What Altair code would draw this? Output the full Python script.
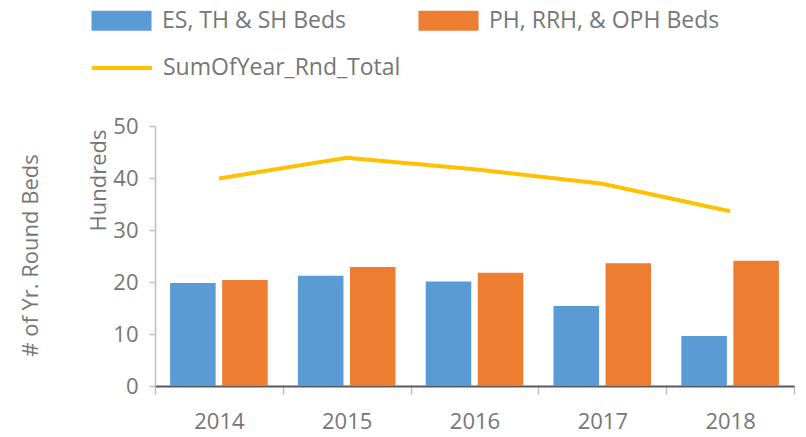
import altair as alt
import pandas as pd

years = ["2014", "2015", "2016", "2017", "2018"]
es_th_sh = [19.8, 21.2, 20.1, 15.4, 9.6]
ph_rrh_oph = [20.4, 22.9, 21.8, 23.6, 24.1]
total = [39.9, 43.9, 41.7, 38.9, 33.6]
series_names = ["ES, TH & SH Beds", "PH, RRH, & OPH Beds"]
line_name = "SumOfYear_Rnd_Total"
y_ticks = [0, 10, 20, 30, 40, 50]
bar_colors = ["#5B9BD5", "#ED7D31"]
line_color = "#FFC000"
outer_title = "# of Yr. Round Beds"

FONT = "Open Sans"
TXT = "#767676"

bars_df = pd.DataFrame({
    "year": years * 2,
    "series": [series_names[0]] * len(years) + [series_names[1]] * len(years),
    "value": es_th_sh + ph_rrh_oph,
})
line_df = pd.DataFrame({"year": years, "value": total, "label": [line_name] * len(years)})
title_df = pd.DataFrame({"t": [outer_title]})

x_enc = alt.X(
    "year:N", sort=years,
    scale=alt.Scale(paddingInner=0, paddingOuter=0),
    axis=alt.Axis(
        title=None, labelAngle=0, tickBand="extent", tickSize=8,
        tickColor="#BFBFBF", tickWidth=1.5, domainColor="#595959", domainWidth=2,
        labelFont=FONT, labelFontSize=22, labelColor=TXT, labelPadding=17,
    ),
)
y_enc = alt.Y(
    "value:Q",
    scale=alt.Scale(domain=[0, 50], nice=False),
    axis=alt.Axis(
        values=y_ticks, title="Hundreds", grid=False, tickSize=6,
        tickColor="#BFBFBF", tickWidth=1.5, domainColor="#BFBFBF", domainWidth=1.5,
        labelFont=FONT, labelFontSize=22, labelColor=TXT, labelPadding=11,
        titleFont=FONT, titleFontSize=22, titleColor=TXT, titleFontWeight="normal",
        titleAngle=270, titleAlign="center", titleBaseline="alphabetic",
        titleX=-50, titleY=54,
    ),
)

# legend symbols: 20px layout box, drawn 60px wide
bars = alt.Chart(bars_df).mark_bar().encode(
    x=x_enc,
    xOffset=alt.XOffset("series:N", sort=series_names,
                        scale=alt.Scale(paddingInner=0.125, paddingOuter=0.29)),
    y=y_enc,
    fill=alt.Fill(
        "series:N", sort=series_names,
        scale=alt.Scale(domain=series_names, range=bar_colors),
        legend=alt.Legend(
            title=None, orient="none", legendX=-45, legendY=-117,
            direction="horizontal", columns=2, columnPadding=72,
            symbolType="M-3,-1H3V1H-3Z", symbolSize=400, symbolStrokeWidth=0,
            labelFont=FONT, labelFontSize=23, labelColor=TXT, labelOffset=29,
            labelBaseline="middle", padding=0, labelLimit=400,
        ),
    ),
)

line = alt.Chart(line_df).mark_line(strokeWidth=4).encode(
    x=x_enc,
    y=y_enc,
    stroke=alt.Stroke(
        "label:N",
        scale=alt.Scale(domain=[line_name], range=[line_color]),
        legend=alt.Legend(
            title=None, orient="none", legendX=-45, legendY=-70,
            symbolType="M-3,0H3", symbolSize=400, symbolStrokeWidth=4,
            labelFont=FONT, labelFontSize=23, labelColor=TXT, labelOffset=29,
            labelBaseline="middle", padding=0, labelLimit=400,
        ),
    ),
)

outer = alt.Chart(title_df).mark_text(
    angle=270, align="center", baseline="alphabetic",
    font=FONT, fontSize=22, color=TXT,
).encode(text="t:N", x=alt.value(-117), y=alt.value(129.5))

chart = alt.layer(bars, line, outer).properties(
    width=639, height=260,
    autosize=alt.AutoSizeParams(type="none"),
    padding={"left": 147, "top": 118, "right": 4, "bottom": 50},
).configure_view(stroke=None)

chart.save("out.html", embed_options={"renderer": "svg", "actions": False})
